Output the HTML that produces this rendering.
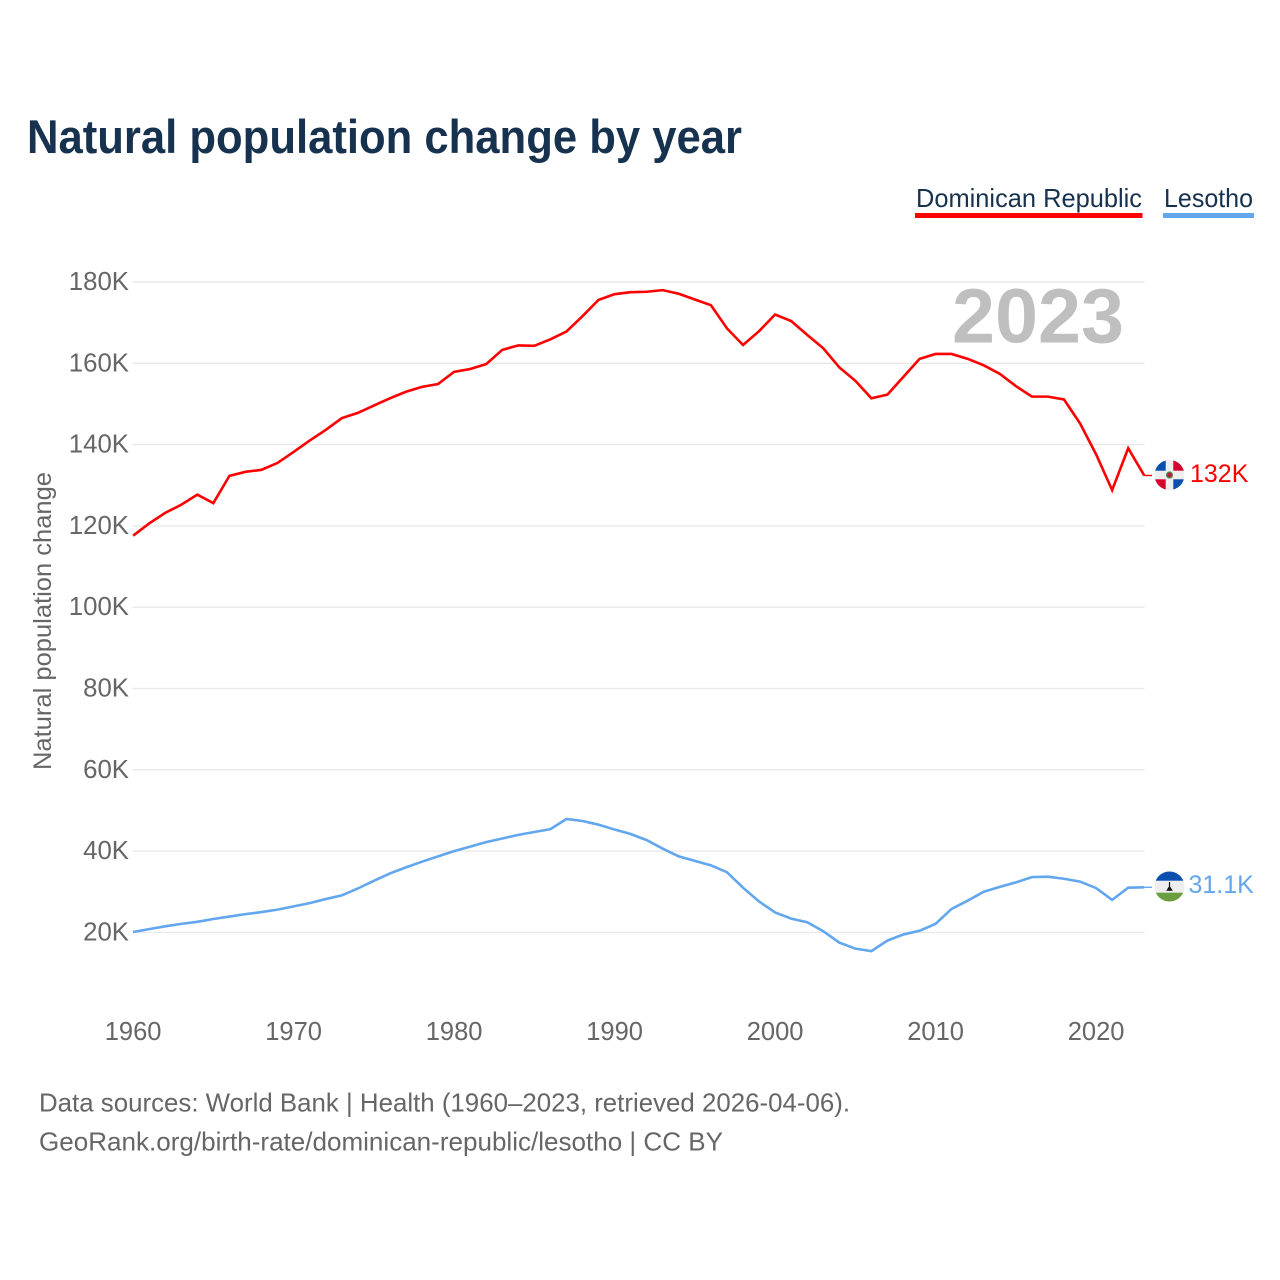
<!DOCTYPE html>
<html lang="en">
<head>
<meta charset="utf-8">
<title>Natural population change by year</title>
<style>
html,body{margin:0;padding:0;background:#fff;}
svg{display:block;}
text{font-family:"Liberation Sans",sans-serif;}
</style>
</head>
<body>
<svg id="chart" xmlns="http://www.w3.org/2000/svg" width="1280" height="1280" viewBox="0 0 1280 1280">
  <rect x="0" y="0" width="1280" height="1280" fill="#ffffff"/>
  <text x="27" y="153" font-size="47" font-weight="700" fill="#17324f" textLength="715" lengthAdjust="spacingAndGlyphs">Natural population change by year</text>

  <g>
    <g>
      <text x="916" y="207" font-size="26" fill="#17324f" textLength="226" lengthAdjust="spacingAndGlyphs">Dominican Republic</text>
      <rect x="915" y="213" width="227.5" height="5" fill="#ff0000"/>
    </g>
    <g>
      <text x="1164" y="207" font-size="26" fill="#17324f" textLength="89" lengthAdjust="spacingAndGlyphs">Lesotho</text>
      <rect x="1163" y="213" width="91" height="5" fill="#62a7ee"/>
    </g>
  </g>

  <g id="grid"></g>
  <g id="y-axis"></g>
  <g id="x-axis"></g>
  <text transform="translate(51,621) rotate(-90)" text-anchor="middle" font-size="25" fill="#666666" textLength="298" lengthAdjust="spacingAndGlyphs">Natural population change</text>
  <text x="1124" y="342.5" text-anchor="end" font-size="77" font-weight="700" fill="#bfbfbf" textLength="172" lengthAdjust="spacingAndGlyphs">2023</text>
  <g id="series"></g>

  <defs>
    <clipPath id="flag-clip-do"><circle cx="1169.5" cy="475" r="15"/></clipPath>
    <clipPath id="flag-clip-ls"><circle cx="1169.5" cy="886.5" r="15"/></clipPath>
  </defs>
  <g clip-path="url(#flag-clip-do)">
    <rect x="1154" y="460" width="32" height="31" fill="#eeeeee"/>
    <rect x="1154" y="460" width="11.7" height="10.7" fill="#0a4fb0"/>
    <rect x="1173.3" y="460" width="12.7" height="10.7" fill="#d6002f"/>
    <rect x="1154" y="479.3" width="11.7" height="11.7" fill="#d6002f"/>
    <rect x="1173.3" y="479.3" width="12.7" height="11.7" fill="#0a4fb0"/>
    <circle cx="1169.5" cy="475" r="3.6" fill="#5e8a4a"/>
    <circle cx="1169.5" cy="475" r="2.4" fill="#b0203a"/>
  </g>
  <g clip-path="url(#flag-clip-ls)">
    <rect x="1154" y="871" width="32" height="31" fill="#eeeeee"/>
    <rect x="1154" y="871" width="32" height="9.7" fill="#0a4fb0"/>
    <rect x="1154" y="892.7" width="32" height="10" fill="#6a9e3f"/>
    <path d="M1168.9 882 H1170.1 V886.5 L1172.8 890.8 H1166.2 L1168.9 886.5 Z" fill="#111111"/>
  </g>

  <text id="label-do" x="1190" y="482" font-size="25" fill="#ff0000"></text>
  <text id="label-ls" x="1188.5" y="893" font-size="25" fill="#62a7ee"></text>

  <text x="39" y="1111.5" font-size="26" fill="#666666" textLength="811" lengthAdjust="spacingAndGlyphs">Data sources: World Bank | Health (1960–2023, retrieved 2026-04-06).</text>
  <text x="39" y="1150.5" font-size="26" fill="#666666" textLength="684" lengthAdjust="spacingAndGlyphs">GeoRank.org/birth-rate/dominican-republic/lesotho | CC BY</text>
</svg>
<script>
const firstYear = 1960;
const yTicks = [20, 40, 60, 80, 100, 120, 140, 160, 180];
const xTicks = [1960, 1970, 1980, 1990, 2000, 2010, 2020];
const dominicanValues = [
  117.6,120.6,123.2,125.2,127.7,125.6,132.3,133.3,133.8,135.5,
  138.2,141.0,143.6,146.5,147.8,149.6,151.4,153.0,154.2,154.9,
  157.9,158.6,159.8,163.3,164.4,164.3,165.9,167.8,171.6,175.6,
  177.0,177.5,177.6,178.0,177.1,175.7,174.3,168.6,164.5,167.9,
  172.0,170.4,167.0,163.7,159.0,155.7,151.4,152.3,156.7,161.1,
  162.3,162.3,161.1,159.5,157.4,154.4,151.8,151.8,151.1,145.2,
  137.6,128.8,139.1,132.4
];
const lesothoValues = [
  20.1,20.8,21.5,22.1,22.6,23.3,23.9,24.5,25.0,25.6,
  26.4,27.2,28.2,29.1,30.8,32.7,34.5,36.0,37.4,38.7,
  40.0,41.1,42.2,43.1,44.0,44.7,45.4,47.9,47.4,46.5,
  45.3,44.2,42.7,40.6,38.7,37.6,36.5,34.8,31.0,27.6,
  24.9,23.4,22.5,20.3,17.5,16.0,15.4,18.0,19.5,20.4,
  22.1,25.8,27.8,30.0,31.2,32.3,33.6,33.7,33.2,32.5,
  30.9,28.0,31.0,31.1
];
const dominicanLabel = "132K";
const lesothoLabel = "31.1K";

const SVG_NS = "http://www.w3.org/2000/svg";
function xScale(year) { return 133.1 + (year - 1960) * 16.05; }
function yScale(value) { return 932.4 - (value - 20) * 4.065; }

const grid = document.getElementById("grid");
const yAxis = document.getElementById("y-axis");
const xAxis = document.getElementById("x-axis");
const seriesGroup = document.getElementById("series");

yTicks.forEach(function (tick) {
  const line = document.createElementNS(SVG_NS, "line");
  
  
  line.setAttribute("x1", 132.5);
  line.setAttribute("x2", 1144.5);
  line.setAttribute("y1", yScale(tick));
  line.setAttribute("y2", yScale(tick));
  line.setAttribute("stroke", "#e9e9e9");
  line.setAttribute("stroke-width", 1.4);
  grid.appendChild(line);

  const label = document.createElementNS(SVG_NS, "text");
  
  
  label.setAttribute("x", 129);
  label.setAttribute("y", yScale(tick) + 8);
  label.setAttribute("text-anchor", "end");
  label.setAttribute("font-size", 25.8);
  label.setAttribute("fill", "#666666");
  label.textContent = tick + "K";
  yAxis.appendChild(label);
});

xTicks.forEach(function (tick) {
  const label = document.createElementNS(SVG_NS, "text");
  
  
  label.setAttribute("x", xScale(tick));
  label.setAttribute("y", 1040);
  label.setAttribute("text-anchor", "middle");
  label.setAttribute("font-size", 25.5);
  label.setAttribute("fill", "#666666");
  label.textContent = tick;
  xAxis.appendChild(label);
});

function linePoints(values) {
  return values.map(function (value, i) {
    return xScale(firstYear + i).toFixed(2) + "," + yScale(value).toFixed(2);
  }).join(" ");
}

const dominicanLine = document.createElementNS(SVG_NS, "polyline");


dominicanLine.setAttribute("points", linePoints(dominicanValues));
dominicanLine.setAttribute("fill", "none");
dominicanLine.setAttribute("stroke", "#ff0000");
dominicanLine.setAttribute("stroke-width", 2.6);
dominicanLine.setAttribute("stroke-linejoin", "miter");
seriesGroup.appendChild(dominicanLine);

const lesothoLine = document.createElementNS(SVG_NS, "polyline");


lesothoLine.setAttribute("points", linePoints(lesothoValues));
lesothoLine.setAttribute("fill", "none");
lesothoLine.setAttribute("stroke", "#62a7ee");
lesothoLine.setAttribute("stroke-width", 2.6);
lesothoLine.setAttribute("stroke-linejoin", "miter");
seriesGroup.appendChild(lesothoLine);

const dominicanLast = dominicanValues[dominicanValues.length - 1];
const dominicanStub = document.createElementNS(SVG_NS, "line");


dominicanStub.setAttribute("x1", xScale(firstYear + dominicanValues.length - 1));
dominicanStub.setAttribute("x2", 1152);
dominicanStub.setAttribute("y1", yScale(dominicanLast));
dominicanStub.setAttribute("y2", yScale(dominicanLast));
dominicanStub.setAttribute("stroke", "#ff0000");
dominicanStub.setAttribute("stroke-width", 1.4);
seriesGroup.appendChild(dominicanStub);

const lesothoLast = lesothoValues[lesothoValues.length - 1];
const lesothoStub = document.createElementNS(SVG_NS, "line");


lesothoStub.setAttribute("x1", xScale(firstYear + lesothoValues.length - 1));
lesothoStub.setAttribute("x2", 1152);
lesothoStub.setAttribute("y1", yScale(lesothoLast));
lesothoStub.setAttribute("y2", yScale(lesothoLast));
lesothoStub.setAttribute("stroke", "#62a7ee");
lesothoStub.setAttribute("stroke-width", 1.4);
seriesGroup.appendChild(lesothoStub);

document.getElementById("label-do").textContent = dominicanLabel;
document.getElementById("label-ls").textContent = lesothoLabel;
</script>
</body>
</html>
